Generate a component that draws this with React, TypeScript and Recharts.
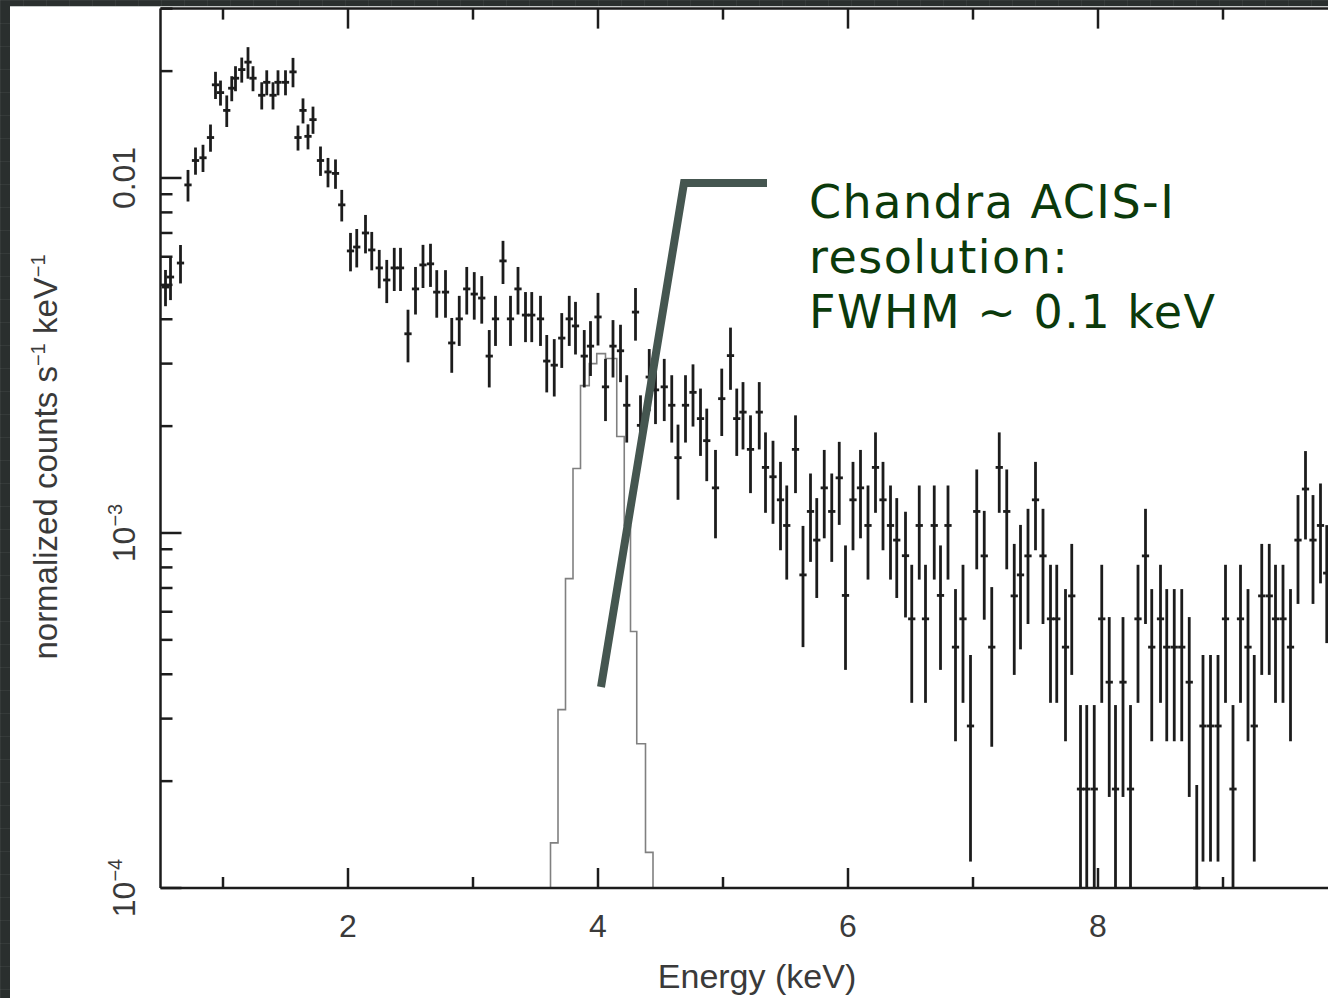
import React from 'react';
import { ComposedChart, XAxis, YAxis, Line, Scatter, ErrorBar, Label } from 'recharts';

// spectrum bins: centre energy (keV), normalized counts, relative 1-sigma error
const energy = [
  0.54, 0.58, 0.66, 0.72, 0.78, 0.84, 0.90, 0.94, 0.98, 1.03, 1.07, 1.10, 1.15, 1.20, 1.24, 1.31, 1.35, 1.40, 1.44, 1.50,
  1.56, 1.60, 1.64, 1.68, 1.72, 1.78, 1.84, 1.90, 1.95, 2.02, 2.07, 2.14, 2.19, 2.25, 2.31, 2.37, 2.42, 2.48, 2.54, 2.60,
  2.66, 2.71, 2.78, 2.83, 2.89, 2.95, 3.01, 3.07, 3.13, 3.18, 3.24, 3.30, 3.36, 3.42, 3.47, 3.54, 3.59, 3.65, 3.71, 3.77,
  3.82, 3.89, 3.94, 4.00, 4.06, 4.12, 4.18, 4.23, 4.30, 4.34, 4.41, 4.46, 4.53, 4.59, 4.64, 4.70, 4.76, 4.82, 4.87, 4.94,
  4.99, 5.06, 5.11, 5.16, 5.22, 5.29, 5.34, 5.40, 5.46, 5.51, 5.58, 5.64, 5.70, 5.75, 5.81, 5.87, 5.93, 5.98, 6.04, 6.10,
  6.16, 6.22, 6.28, 6.34, 6.39, 6.46, 6.51, 6.57, 6.62, 6.69, 6.74, 6.80, 6.86, 6.92, 6.98, 7.03, 7.09, 7.15, 7.21, 7.27,
  7.33, 7.38, 7.44, 7.50, 7.56, 7.62, 7.67, 7.74, 7.79, 7.86, 7.91, 7.97, 8.03, 8.09, 8.14, 8.20, 8.26, 8.32, 8.38, 8.43,
  8.50, 8.55, 8.61, 8.67, 8.73, 8.79, 8.84, 8.90, 8.96, 9.02, 9.08, 9.14, 9.20, 9.25, 9.31, 9.37, 9.42, 9.48, 9.54, 9.60,
  9.66, 9.72, 9.78, 9.83,
];

const counts = [
  4.93e-3, 5.26e-3, 5.76e-3, 9.56e-3, 1.12e-2, 1.14e-2, 1.30e-2, 1.83e-2, 1.74e-2, 1.55e-2, 1.79e-2, 1.91e-2, 2.02e-2, 2.12e-2, 1.91e-2, 1.71e-2, 1.86e-2, 1.71e-2, 1.86e-2, 1.86e-2,
  1.99e-2, 1.30e-2, 1.55e-2, 1.31e-2, 1.46e-2, 1.12e-2, 1.04e-2, 1.03e-2, 8.40e-3, 6.23e-3, 6.39e-3, 7.00e-3, 6.27e-3, 5.58e-3, 5.16e-3, 5.58e-3, 5.58e-3, 3.64e-3, 4.87e-3, 5.69e-3,
  5.73e-3, 4.77e-3, 4.77e-3, 3.43e-3, 4.01e-3, 4.87e-3, 4.71e-3, 4.59e-3, 3.15e-3, 4.01e-3, 5.84e-3, 4.01e-3, 4.87e-3, 4.11e-3, 4.11e-3, 4.01e-3, 3.05e-3, 2.97e-3, 3.54e-3, 4.01e-3,
  3.83e-3, 3.15e-3, 3.36e-3, 4.06e-3, 2.58e-3, 3.36e-3, 3.26e-3, 2.29e-3, 4.19e-3, 2.01e-3, 2.75e-3, 2.53e-3, 2.58e-3, 2.29e-3, 1.63e-3, 2.29e-3, 2.49e-3, 2.10e-3, 1.82e-3, 1.34e-3,
  2.39e-3, 3.16e-3, 2.10e-3, 2.19e-3, 1.72e-3, 2.19e-3, 1.53e-3, 1.44e-3, 1.24e-3, 1.05e-3, 1.72e-3, 7.62e-4, 1.15e-3, 9.55e-4, 1.34e-3, 1.15e-3, 1.43e-3, 6.67e-4, 1.24e-3, 1.34e-3,
  1.05e-3, 1.53e-3, 1.24e-3, 1.05e-3, 9.55e-4, 8.63e-4, 5.73e-4, 1.05e-3, 5.73e-4, 1.05e-3, 6.67e-4, 1.05e-3, 4.77e-4, 5.73e-4, 2.86e-4, 1.15e-3, 8.62e-4, 4.77e-4, 1.53e-3, 1.15e-3,
  6.65e-4, 7.62e-4, 8.62e-4, 1.24e-3, 8.62e-4, 5.73e-4, 5.73e-4, 4.77e-4, 6.65e-4, 1.90e-4, 1.90e-4, 1.90e-4, 5.73e-4, 3.80e-4, 1.90e-4, 3.80e-4, 1.90e-4, 5.73e-4, 8.62e-4, 4.77e-4,
  5.73e-4, 4.77e-4, 4.77e-4, 4.77e-4, 3.80e-4, 9.2e-5, 2.86e-4, 2.86e-4, 2.86e-4, 5.73e-4, 1.90e-4, 5.73e-4, 4.77e-4, 2.86e-4, 6.65e-4, 6.65e-4, 5.73e-4, 5.73e-4, 4.77e-4, 9.55e-4,
  1.33e-3, 9.55e-4, 1.05e-3, 7.71e-4,
];

const relErr = [
  0.117, 0.139, 0.124, 0.102, 0.088, 0.088, 0.088, 0.088, 0.081, 0.102, 0.081, 0.081, 0.081, 0.102, 0.081, 0.088, 0.081, 0.088, 0.081, 0.081,
  0.095, 0.081, 0.081, 0.081, 0.088, 0.095, 0.095, 0.095, 0.102, 0.124, 0.124, 0.124, 0.124, 0.124, 0.139, 0.139, 0.139, 0.169, 0.153, 0.139,
  0.139, 0.153, 0.153, 0.176, 0.161, 0.153, 0.153, 0.153, 0.184, 0.161, 0.139, 0.161, 0.153, 0.161, 0.161, 0.161, 0.184, 0.184, 0.176, 0.161,
  0.169, 0.184, 0.176, 0.169, 0.199, 0.184, 0.184, 0.215, 0.169, 0.215, 0.199, 0.199, 0.199, 0.215, 0.239, 0.215, 0.199, 0.215, 0.231, 0.279,
  0.215, 0.199, 0.215, 0.215, 0.247, 0.215, 0.255, 0.263, 0.279, 0.296, 0.247, 0.374, 0.279, 0.313, 0.279, 0.279, 0.263, 0.383, 0.279, 0.279,
  0.296, 0.255, 0.279, 0.296, 0.313, 0.330, 0.420, 0.296, 0.420, 0.296, 0.383, 0.296, 0.457, 0.420, 0.585, 0.313, 0.339, 0.476, 0.255, 0.313,
  0.401, 0.383, 0.357, 0.279, 0.357, 0.420, 0.420, 0.457, 0.401, 0.724, 0.724, 0.724, 0.420, 0.525, 0.724, 0.525, 0.724, 0.420, 0.357, 0.457,
  0.420, 0.457, 0.457, 0.457, 0.525, 1.12, 0.585, 0.585, 0.585, 0.420, 0.724, 0.420, 0.457, 0.585, 0.401, 0.401, 0.420, 0.420, 0.457, 0.339,
  0.279, 0.339, 0.313, 0.365,
];

// instrument response line profile (gray histogram): bin edges and level from each edge to the next
const profileEdges = [3.56, 3.62, 3.68, 3.74, 3.80, 3.86, 3.93, 3.99, 4.06, 4.15, 4.21, 4.26, 4.31, 4.38, 4.44];
const profileLevels = [5e-5, 1.34e-4, 3.18e-4, 7.44e-4, 1.52e-3, 2.6e-3, 3.0e-3, 3.2e-3, 3.1e-3, 1.87e-3, 1.05e-3, 5.28e-4, 2.55e-4, 1.26e-4, 5e-5];

const xTicks = [1, 2, 3, 4, 5, 6, 7, 8, 9, 10];
const xLabelled = [2, 4, 6, 8];
const yDecades = [1e-4, 1e-3, 1e-2];
const yMantissas = [1, 2, 3, 4, 5, 6, 7, 8, 9];
const yTickText: Record<string, [string, string]> = {
  '0.0001': ['10', '\u22124'],
  '0.001': ['10', '\u22123'],
  '0.01': ['0.01', ''],
};
const noteLines = ['Chandra ACIS-I', 'resolution:', 'FWHM ~ 0.1 keV'];

const binHalf = 0.029;
const yFloor = 1e-4;
const yTop = 0.03;

// error bars are cut at the bottom of the frame (the error-bar layer is not clipped by recharts)
const points = energy.map((e, i) => {
  const v = Math.max(counts[i], yFloor);
  const s = counts[i] * relErr[i];
  const hi = counts[i] + s - v;
  return { e, v, ey: [Math.min(s, v - yFloor), hi], ex: binHalf };
});
const profile = profileEdges.map((e, i) => ({ e, v: profileLevels[i] }));
const yTicks = yDecades
  .flatMap((d) => yMantissas.map((m) => Number((m * d).toPrecision(3))))
  .filter((t) => t <= yTop);

const font = '"Liberation Sans", Arial, Helvetica, sans-serif';
const ink = '#1c1c1c';
const textInk = '#3a3a3a';

const isMajorY = (v: number) => Math.abs(Math.log10(v) - Math.round(Math.log10(v))) < 1e-6;

const BottomTick = (props: any) => {
  const { x, y, payload } = props;
  const v = payload.value;
  const major = v % 2 === 0;
  return (
    <g>
      <line x1={x} x2={x} y1={y} y2={y - (major ? 20 : 11)} stroke={ink} strokeWidth={2.5} />
      {xLabelled.includes(v) && (
        <text x={x} y={y + 49} textAnchor="middle" fontSize={32} fontFamily={font} fill={textInk}>
          {v}
        </text>
      )}
    </g>
  );
};

const TopTick = (props: any) => {
  const { x, y, payload } = props;
  const major = payload.value % 2 === 0;
  return <line x1={x} x2={x} y1={y} y2={y + (major ? 20 : 11)} stroke={ink} strokeWidth={2.5} />;
};

const LeftTick = (props: any) => {
  const { x, y, payload } = props;
  const v = payload.value;
  const major = isMajorY(v);
  const lab = major ? yTickText[String(v)] : undefined;
  return (
    <g>
      <line x1={x} x2={x + (major ? 21 : 12)} y1={y} y2={y} stroke={ink} strokeWidth={2.5} />
      {lab && (
        <text
          transform={`translate(135,${y}) rotate(-90)`}
          textAnchor="middle"
          fontSize={32}
          fontFamily={font}
          fill={textInk}
        >
          {lab[0]}
          {lab[1] && (
            <tspan dy={-13} fontSize={20}>
              {lab[1]}
            </tspan>
          )}
        </text>
      )}
    </g>
  );
};

const YTitle = () => (
  <text transform="translate(57,457) rotate(-90)" textAnchor="middle" fontSize={33} fontFamily={font} fill={textInk}>
    normalized counts s
    <tspan dy={-12} fontSize={20}>{'\u22121'}</tspan>
    <tspan dy={12}> keV</tspan>
    <tspan dy={-12} fontSize={20}>{'\u22121'}</tspan>
  </text>
);

const XTitle = () => (
  <text x={757} y={988} textAnchor="middle" fontSize={34} fontFamily={font} fill={textInk}>
    Energy (keV)
  </text>
);

export default function App() {
  return (
    <div
      style={{
        position: 'absolute',
        left: 0,
        top: 0,
        width: 1328,
        height: 998,
        overflow: 'hidden',
        backgroundColor: '#2a2f2e',
        backgroundImage:
          'linear-gradient(rgba(255,255,255,0.05) 1px, transparent 1px), linear-gradient(90deg, rgba(255,255,255,0.05) 1px, transparent 1px)',
        backgroundSize: '23px 23px',
      }}
    >
      <div
        style={{
          position: 'absolute',
          left: 10,
          top: 6,
          right: 0,
          bottom: 0,
          background: '#ffffff',
          borderTop: '1px solid #c4c8c7',
        }}
      />
      <div style={{ position: 'absolute', left: 0, top: 0 }}>
        <ComposedChart width={1400} height={998} margin={{ top: 0, right: 52, bottom: 0, left: 0 }}>
          <XAxis
            xAxisId="b"
            dataKey="e"
            type="number"
            domain={[0.5, 10]}
            allowDataOverflow
            ticks={xTicks}
            interval={0}
            height={110}
            tickSize={0}
            tickMargin={0}
            tickLine={false}
            tick={(p: any) => <BottomTick {...p} />}
            axisLine={{ stroke: ink, strokeWidth: 2.5 }}
          >
            <Label content={() => <XTitle />} />
          </XAxis>
          <XAxis
            xAxisId="t"
            orientation="top"
            dataKey="e"
            type="number"
            domain={[0.5, 10]}
            allowDataOverflow
            ticks={xTicks}
            interval={0}
            height={8.6}
            tickSize={0}
            tickMargin={0}
            tickLine={false}
            tick={(p: any) => <TopTick {...p} />}
            axisLine={{ stroke: ink, strokeWidth: 2.5 }}
          />
          <YAxis
            yAxisId="l"
            type="number"
            scale="log"
            domain={[yFloor, yTop]}
            allowDataOverflow
            ticks={yTicks}
            interval={0}
            width={160.5}
            tickSize={0}
            tickMargin={0}
            tickLine={false}
            tick={(p: any) => <LeftTick {...p} />}
            axisLine={{ stroke: ink, strokeWidth: 2.5 }}
          >
            <Label content={() => <YTitle />} />
          </YAxis>
          <Line
            xAxisId="b"
            yAxisId="l"
            data={profile}
            dataKey="v"
            type="stepAfter"
            stroke="#808080"
            strokeWidth={1.6}
            dot={false}
            activeDot={false}
            isAnimationActive={false}
          />
          <Scatter
            xAxisId="b"
            yAxisId="l"
            data={points}
            dataKey="v"
            shape={() => <g />}
            isAnimationActive={false}
          >
            <ErrorBar dataKey="ey" direction="y" width={0} stroke={ink} strokeWidth={2.8} isAnimationActive={false} />
            <ErrorBar dataKey="ex" direction="x" width={0} stroke={ink} strokeWidth={2.8} isAnimationActive={false} />
          </Scatter>
        </ComposedChart>
      </div>
      <svg
        width={1328}
        height={998}
        style={{ position: 'absolute', left: 0, top: 0, pointerEvents: 'none' }}
      >
        <polyline
          points="601,687 684,183 767,183"
          fill="none"
          stroke="#455650"
          strokeWidth={8}
          strokeLinejoin="miter"
        />
        {noteLines.map((t, i) => (
          <text
            key={t}
            x={809}
            y={218 + i * 55}
            fontSize={46}
            fontFamily='"DejaVu Sans", Verdana, sans-serif'
            letterSpacing={1.5}
            fill="#0b3a0b"
          >
            {t}
          </text>
        ))}
      </svg>
    </div>
  );
}
